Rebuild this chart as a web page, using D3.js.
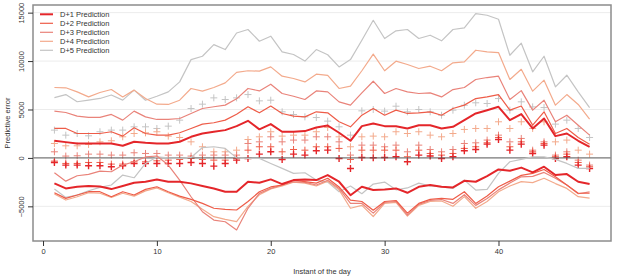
<!DOCTYPE html>
<html><head><meta charset="utf-8">
<script src="https://cdn.jsdelivr.net/npm/d3@7"></script>
<style>body{margin:0;background:#fff}svg{display:block;font-family:"Liberation Sans",Arial,sans-serif}</style>
</head><body><svg id="c" width="627" height="278"></svg>
<script>
const instants = d3.range(1, 49);
const seriesNames = ["D+1 Prediction","D+2 Prediction","D+3 Prediction","D+4 Prediction","D+5 Prediction"];
const xTicks = [0,10,20,30,40];
const yTicks = [-5000,0,5000,10000,15000];

// upper bounds
const upperD1 = [1770,1630,1490,1490,1490,1490,1250,1670,1560,1490,1490,1670,2180,2520,2700,2870,3280,3830,2950,3490,2700,2700,2770,3140,3350,2600,1770,3280,3560,3280,3280,3040,3380,3380,3040,3210,3900,4590,4930,5280,3900,4530,3040,4070,2250,2520,1770,1150];
const upperD2 = [3040,3040,2520,2520,2520,2700,2250,3110,2520,2350,2350,2600,3040,3490,3630,3900,4500,5280,4660,5350,4590,4310,4240,4760,4660,3730,3210,4410,5100,4410,4930,4590,4660,4760,4410,5100,5450,6130,6300,6540,4930,5360,3380,4760,2520,3040,2110,1420];
const upperD3 = [4830,4690,4310,4180,4180,4490,3900,4830,4240,3970,3970,4070,4590,5100,5280,5450,6100,7170,6920,7610,6650,6370,6030,6920,6820,5790,5450,6720,7920,6650,7170,6820,6650,6720,6300,7060,7270,8100,8300,8440,6030,6950,4930,5960,3730,4410,3380,2350];
const upperD4 = [7270,7240,6820,6300,6750,7060,6300,7000,6130,5550,5520,5960,7170,6890,7270,7750,8830,9000,8960,9400,8440,8200,7850,8650,8520,7170,7410,9000,10720,9000,9990,9650,9230,9470,9000,9820,9920,11120,10950,10880,8100,9150,6890,8030,5450,6540,5520,4000];
const upperD5 = [6230,6540,5800,5970,6140,6500,5970,7000,5950,6370,6820,7850,10150,10500,11700,11190,12900,13260,12050,12570,10950,10680,10000,11190,10650,9400,10150,12150,14210,12330,13120,13260,12330,12670,12090,13260,13430,14900,14730,14320,10600,11850,8890,10500,7340,8540,6820,5200];

// lower bounds
const lowerD1 = [-2630,-3150,-2980,-2900,-2950,-3220,-2900,-2560,-2460,-2220,-2460,-2460,-2630,-2900,-3150,-3490,-3490,-2460,-2560,-2220,-2700,-2290,-2220,-2290,-1770,-2460,-3850,-2980,-3320,-3250,-3150,-3600,-2980,-2800,-2980,-3050,-2360,-2460,-1880,-1190,-1320,-1000,-1490,-910,-1770,-1670,-2460,-2700];
const lowerD2 = [-3590,-4180,-3830,-3490,-3490,-4010,-3490,-3830,-3250,-2980,-3490,-3940,-4280,-4700,-5200,-5310,-5380,-4500,-3500,-3000,-2800,-2300,-2450,-2600,-2100,-3000,-4350,-4500,-5400,-4500,-4400,-5700,-4700,-4280,-4170,-4280,-3490,-4700,-3940,-2980,-2400,-1800,-1600,-1200,-1950,-2800,-3650,-3650];
const lowerD3 = [-1530,-2400,-1840,-1700,-1360,-1430,-740,-400,100,200,-740,-2290,-4010,-5550,-6420,-6590,-7440,-5200,-3660,-3150,-2800,-2460,-2520,-2800,-2300,-3150,-4700,-4700,-5700,-4600,-4500,-5900,-4800,-4400,-4300,-4700,-3800,-4900,-4200,-3300,-2600,-1950,-1900,-1500,-2100,-2800,-3700,-3500];
const lowerD4 = [-3730,-4350,-4010,-3600,-3650,-4080,-3650,-3950,-3400,-3100,-3600,-4050,-4500,-5310,-6070,-6340,-6580,-5000,-3800,-3200,-2900,-2500,-2600,-2900,-2400,-3300,-5200,-4900,-6050,-4700,-4600,-6000,-4900,-4500,-4450,-5000,-4000,-5200,-4500,-3500,-2900,-2450,-2550,-2100,-2650,-3150,-4000,-4150];
const lowerD5 = [-3220,-4080,-3840,-3390,-3050,-2800,-1770,-2050,-570,100,0,-50,50,1070,1150,980,0,-50,-50,-570,-1080,-1600,-1530,-2290,-2500,-3500,-2900,-3700,-2700,-2500,-3300,-3100,-2600,-2900,-3000,-3150,-2290,-3320,-3250,-1600,-400,-150,100,100,-150,-570,-1080,-1080];

// point estimates (crosses)
const pointD1 = [-470,-740,-740,-810,-810,-910,-810,-570,-570,-570,-570,-570,-470,-570,-850,-570,-230,-55,390,630,-160,390,290,740,800,-55,-1090,50,15,50,120,-400,290,190,-55,120,740,870,1420,1900,800,1420,460,1320,-55,120,-740,-1090];
const pointD2 = [-330,-570,-570,-470,-470,-640,-640,-400,-400,-300,-230,-160,-55,-160,-230,-230,-55,800,1150,1150,630,870,800,1150,1150,980,-160,800,800,800,800,120,800,460,290,460,980,1150,1560,2110,1150,1660,630,1490,120,390,-470,-910];
const pointD3 = [630,190,220,390,390,290,290,530,460,460,290,290,190,290,290,290,290,1490,1660,2180,1660,1840,1840,2180,2180,1660,290,1320,1320,1150,1320,630,1320,870,630,870,1490,1560,1840,2350,1660,2010,800,1660,290,630,-230,-740];
const pointD4 = [1490,1250,1250,1390,1660,1770,2180,2520,2590,2700,2250,2110,1660,1150,630,630,800,1900,2180,2700,2250,2350,2350,2700,3140,2180,1150,2180,2250,2180,2700,2520,2700,2350,2180,2520,2940,3040,3040,3730,3040,3730,3040,3730,1660,1840,800,390];
const pointD5 = [2870,2350,2520,2280,2700,2870,2870,3210,3210,3040,3280,3900,5100,5550,6200,6030,6200,6540,5890,5960,4760,4480,4240,4170,3800,3210,2350,4860,5000,4830,5340,4760,5000,4760,4410,4930,5440,5690,5620,6130,4930,5790,5270,5200,3490,3900,3040,2110];

const colors = ["#e4262a","#ee5c48","#e9837a","#f3aa8c","#c4c4c4"];
const widths = [2,1.2,1.2,1.2,1.2];
const uppers = [upperD1,upperD2,upperD3,upperD4,upperD5];
const lowers = [lowerD1,lowerD2,lowerD3,lowerD4,lowerD5];
const points = [pointD1,pointD2,pointD3,pointD4,pointD5];

const svg = d3.select("#c");
const L = 33, R = 611, T = 5, B = 241;
const x = d3.scaleLinear().domain([-0.88, 49.88]).range([L, R]);
const y = d3.scaleLinear().domain([-8580, 15790]).range([B, T]);

// grid
svg.append("g").selectAll("line").data(yTicks.filter(d => d !== 0)).join("line")
  .attr("x1", L).attr("x2", R).attr("y1", d => y(d)).attr("y2", d => y(d))
  .attr("stroke", "#ececec").attr("stroke-width", 1);

// crosses (drawn under lines)
const cross = "M-3.5,0H3.5M0,-3.5V3.5";
for (let s = 4; s >= 0; s--) {
  svg.append("g").selectAll("path").data(points[s]).join("path")
    .attr("d", cross)
    .attr("transform", (d, i) => `translate(${x(instants[i])},${y(d)})`)
    .attr("stroke", colors[s]).attr("stroke-width", s === 0 ? 1.4 : 1).attr("fill", "none");
}

// zero line
svg.append("line").attr("x1", L).attr("x2", R).attr("y1", y(0)).attr("y2", y(0))
  .attr("stroke", "#555").attr("stroke-width", 1);

const line = d3.line().x((d, i) => x(instants[i])).y(d => y(d));
for (let s = 4; s >= 0; s--) {
  [uppers[s], lowers[s]].forEach(arr => {
    svg.append("path").datum(arr).attr("d", line)
      .attr("fill", "none").attr("stroke", colors[s]).attr("stroke-width", widths[s])
      .attr("stroke-linejoin", "round");
  });
}

// box
svg.append("rect").attr("x", L).attr("y", T).attr("width", R - L).attr("height", B - T)
  .attr("fill", "none").attr("stroke", "#8c8c8c").attr("stroke-width", 1.5);

// x axis
const xa = svg.append("g").attr("transform", `translate(0,${B})`)
  .call(d3.axisBottom(x).tickValues(xTicks).tickSize(5).tickPadding(3).tickFormat(d3.format("d")));
xa.select(".domain").remove();
xa.selectAll("line").attr("stroke", "#333");
xa.selectAll("text").attr("font-size", 7.5).attr("fill", "#333").attr("font-family", "Liberation Sans, Arial, sans-serif");

// y axis
const ya = svg.append("g").attr("transform", `translate(${L},0)`)
  .call(d3.axisLeft(y).tickValues(yTicks).tickSize(5).tickFormat(d => d < 0 ? "\u2212" + Math.abs(d) : String(d)));
ya.select(".domain").remove();
ya.selectAll("line").attr("stroke", "#333");
ya.selectAll("text").attr("font-size", 7.5).attr("fill", "#333")
  .attr("font-family", "Liberation Sans, Arial, sans-serif")
  .attr("text-anchor", "middle").attr("x", 0).attr("dy", 0)
  .attr("transform", "translate(-9,0) rotate(-90)");

// titles
svg.append("text").attr("x", (L + R) / 2).attr("y", 274).attr("text-anchor", "middle")
  .attr("font-size", 7.5).attr("fill", "#333").text("Instant of the day");
svg.append("text").attr("transform", `translate(9.5,${(T + B) / 2}) rotate(-90)`).attr("text-anchor", "middle")
  .attr("font-size", 7.5).attr("fill", "#333").text("Predictive error");

// legend
const lg = svg.append("g");
seriesNames.forEach((n, i) => {
  const yy = 14.3 + i * 9;
  lg.append("line").attr("x1", 40).attr("x2", 53).attr("y1", yy).attr("y2", yy)
    .attr("stroke", colors[i]).attr("stroke-width", widths[i]);
  lg.append("text").attr("x", 60).attr("y", yy + 2.7).attr("font-size", 7.5).attr("fill", "#333").text(n);
});
</script></body></html>
